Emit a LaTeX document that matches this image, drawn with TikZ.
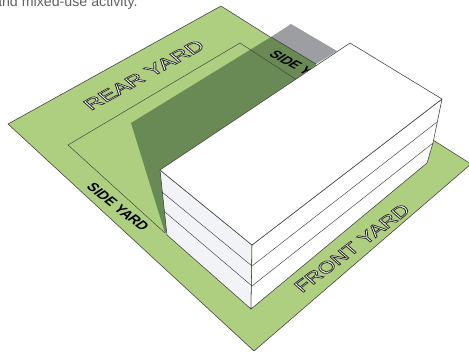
\documentclass[tikz,border=0pt]{standalone}
\usepackage{fontspec}
\setmainfont{Liberation Sans}
\definecolor{lawn}{HTML}{AECF80}
\definecolor{lawnshade}{HTML}{6A8A55}
\definecolor{offsite}{HTML}{9C9EA2}
\definecolor{sidewall}{HTML}{F2F3F7}
\definecolor{edge}{HTML}{3C403C}
\newcommand{\outlined}[1]{\special{pdf:code 2 Tr 0.38 w 0.15 0.15 0.15 RG}#1\special{pdf:code 0 Tr}}
\tikzset{
  x=1pt,y=-1pt,
  edgeline/.style={draw=edge,line width=0.55pt,line join=round},
  thinline/.style={draw=edge,line width=0.45pt},
  yardtext/.style={inner sep=0pt,font=\fontsize{10}{10}\selectfont,transform shape},
  sidetext/.style={yardtext,text=black,font=\fontsize{10}{10}\selectfont\bfseries},
}
\begin{document}
\begin{tikzpicture}
\useasboundingbox (0,0) rectangle (469,354);
\clip (0,0) rectangle (469,354);
\node[anchor=base west,inner sep=0pt,text=black!62,font=\fontsize{14.2}{14.2}\selectfont] (caption) at (-6,6) {and mixed-use activity.};
% parcel
\coordinate (pt) at (221,6);
\coordinate (pl) at (8,124);
\coordinate (pb) at (254,351);
\coordinate (pr) at (471,164);
\fill[offsite] (271,37) -- (291,24) -- (337,51) -- (313,66) -- cycle;
\path[fill=lawn,edgeline] (pt) -- (pl) -- (pb) -- (pr) -- cycle;
% shadow
\fill[lawnshade] (131,123) -- (271,37) -- (316,64) -- (200,190) -- (165,233) -- cycle;
\draw[edgeline] (271,37) -- (316,64);
% setback line
\draw[thinline] (165,233) -- (68,145) -- (240,43) -- (300,82);
% labels
\node[yardtext,text=white,cm={2.0,1.1,-1.35,1.2,(144,75)}] (rear) at (0,0) {\outlined{REAR YARD}};
\node[yardtext,text=white,cm={1.7,1.28,-1.35,1.2,(352,248)}] (front) at (0,0) {\outlined{FRONT YARD}};
\node[sidetext,cm={1.05,-.83,1.2,.8,(118,207)}] (sidea) at (0,0) {SIDE YARD};
\node[sidetext,cm={1.15,-.62,1.2,.8,(303,69)}] (sideb) at (0,0) {SIDE YARD};
% building
\coordinate (tl) at (160,170);
\coordinate (tb) at (350,43);
\coordinate (tr) at (442,99);
\coordinate (tf) at (252,245);
\coordinate (bf) at (251,309);
\coordinate (br) at (427,163);
\coordinate (bl) at (167,235);
\path[fill=sidewall,edgeline] (tl) -- (tf) -- (bf) -- (bl) -- cycle;
\path[fill=white,edgeline] (tf) -- (tr) -- (433,143) -- (br) -- (bf) -- cycle;
\path[fill=white,edgeline] (tl) -- (tb) -- (tr) -- (tf) -- cycle;
\draw[thinline] (162,192) -- (252,266) -- (437,122);
\draw[thinline] (165,212) -- (252,286) -- (433,143);
\end{tikzpicture}
\end{document}
